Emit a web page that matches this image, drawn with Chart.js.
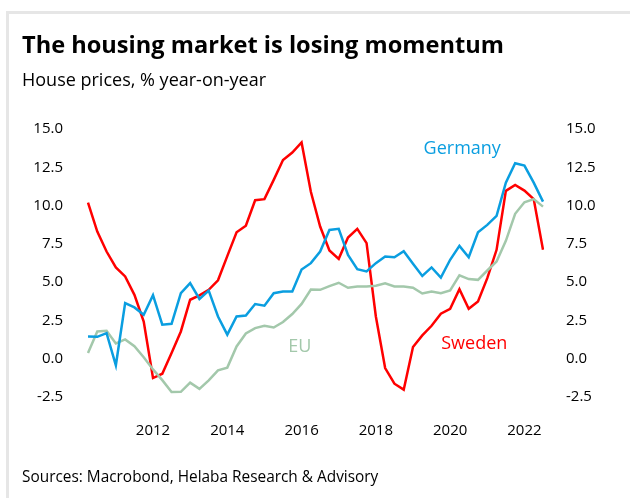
<!DOCTYPE html>
<html>
<head>
<meta charset="utf-8">
<script src="https://cdn.jsdelivr.net/npm/chart.js@4/dist/chart.umd.min.js"></script>
<style>
  html, body { margin: 0; padding: 0; background: #fff; }
  body { width: 630px; height: 498px; position: relative; overflow: hidden; font-family: "Open Sans", sans-serif; }
  #frame { position: absolute; left: 6px; top: 11px; width: 640px; height: 500px; border-left: 3px solid #e6e6e6; border-top: 3px solid #e6e6e6; }
  #title { position: absolute; left: 22px; top: 28px; font-size: 23.6px; font-weight: 700; color: #000; white-space: nowrap; }
  #subtitle { position: absolute; left: 22px; top: 67px; font-size: 18px; color: #000; white-space: nowrap; }
  #source { position: absolute; left: 22px; top: 466px; font-size: 15.4px; color: #000; white-space: nowrap; }
  #wrap { position: absolute; left: 0; top: 0; width: 630px; height: 498px; }
</style>
</head>
<body>
<div id="frame"></div>
<div id="wrap"><canvas id="c"></canvas></div>
<div id="title">The housing market is losing momentum</div>
<div id="subtitle">House prices, % year-on-year</div>
<div id="source">Sources: Macrobond, Helaba Research &amp; Advisory</div>
<script>
const quarters = [
  "2010Q2","2010Q3","2010Q4",
  "2011Q1","2011Q2","2011Q3","2011Q4",
  "2012Q1","2012Q2","2012Q3","2012Q4",
  "2013Q1","2013Q2","2013Q3","2013Q4",
  "2014Q1","2014Q2","2014Q3","2014Q4",
  "2015Q1","2015Q2","2015Q3","2015Q4",
  "2016Q1","2016Q2","2016Q3","2016Q4",
  "2017Q1","2017Q2","2017Q3","2017Q4",
  "2018Q1","2018Q2","2018Q3","2018Q4",
  "2019Q1","2019Q2","2019Q3","2019Q4",
  "2020Q1","2020Q2","2020Q3","2020Q4",
  "2021Q1","2021Q2","2021Q3","2021Q4",
  "2022Q1","2022Q2","2022Q3"
];
const germany = [
  1.45, 1.43, 1.67, -0.43, 3.63, 3.35, 2.87, 4.15, 2.22, 2.28,
  4.28, 4.94, 3.90, 4.45, 2.76, 1.57, 2.76, 2.82, 3.57, 3.46,
  4.28, 4.39, 4.39, 5.82, 6.24, 7.00, 8.41, 8.48, 6.78, 5.85,
  5.70, 6.24, 6.67, 6.63, 7.02, 6.20, 5.40, 5.96, 5.30, 6.46,
  7.37, 6.63, 8.26, 8.74, 9.33, 11.50, 12.76, 12.61, 11.50, 10.26
];
const sweden = [
  10.20, 8.30, 7.00, 5.96, 5.37, 4.17, 2.43, -1.26, -0.98, 0.37,
  1.78, 3.85, 4.14, 4.50, 5.12, 6.70, 8.26, 8.68, 10.35, 10.42,
  11.68, 12.98, 13.46, 14.12, 10.90, 8.63, 7.07, 6.52, 7.91, 8.48,
  7.55, 2.76, -0.61, -1.63, -2.02, 0.76, 1.52, 2.15, 2.94, 3.26,
  4.54, 3.26, 3.74, 5.26, 7.11, 10.96, 11.35, 10.98, 10.42, 7.11
];
const eu = [
  0.37, 1.78, 1.82, 1.00, 1.26, 0.82, 0.10, -0.70, -1.40, -2.17,
  -2.16, -1.56, -1.97, -1.41, -0.76, -0.58, 0.80, 1.65, 2.00, 2.15,
  2.04, 2.40, 2.92, 3.58, 4.52, 4.50, 4.74, 4.96, 4.63, 4.72,
  4.72, 4.76, 4.92, 4.72, 4.72, 4.64, 4.26, 4.39, 4.28, 4.46,
  5.44, 5.20, 5.15, 5.76, 6.35, 7.70, 9.46, 10.22, 10.42, 9.93
];
const yTicks = [-2.5, 0, 2.5, 5, 7.5, 10, 12.5, 15];

const BLUE = "#0a9ee0";
const RED = "#ff0000";
const GREEN = "#a3c8ab";

const labelPlugin = {
  id: "seriesLabels",
  afterDatasetsDraw(chart, args, opts) {
    const { ctx, scales } = chart;
    ctx.save();
    ctx.font = "18px 'Open Sans', sans-serif";
    ctx.textAlign = "center";
    ctx.textBaseline = "middle";
    for (const it of opts.items) {
      ctx.fillStyle = it.color;
      ctx.fillText(it.text, scales.x.getPixelForValue(it.x), scales.y.getPixelForValue(it.y));
    }
    ctx.restore();
  }
};

const tickFont = { family: "'Open Sans', sans-serif", size: 15 };

new Chart(document.getElementById("c"), {
  type: "line",
  data: {
    labels: quarters,
    datasets: [
      { label: "Germany", data: germany, borderColor: BLUE, borderWidth: 2.5, pointRadius: 0, tension: 0, yAxisID: "y" },
      { label: "EU", data: eu, borderColor: GREEN, borderWidth: 2.5, pointRadius: 0, tension: 0, yAxisID: "y" },
      { label: "Sweden", data: sweden, borderColor: RED, borderWidth: 2.5, pointRadius: 0, tension: 0, yAxisID: "y" }
    ]
  },
  options: {
    responsive: true,
    maintainAspectRatio: false,
    animation: false,
    events: [],
    layout: { padding: { top: 129, left: 0, right: 0, bottom: 0 } },
    plugins: {
      legend: { display: false },
      tooltip: { enabled: false },
      seriesLabels: {
        items: [
          { text: "Germany", color: BLUE, x: 40.3, y: 13.7 },
          { text: "Sweden", color: RED, x: 41.6, y: 0.95 },
          { text: "EU", color: GREEN, x: 22.8, y: 0.8 }
        ]
      }
    },
    scales: {
      x: {
        type: "category",
        offset: false,
        grid: { display: false },
        border: { display: false },
        afterFit(s) { s.height = 101; },
        ticks: {
          autoSkip: false,
          maxRotation: 0,
          padding: 17,
          color: "#000",
          font: tickFont,
          callback(v, i) { const q = quarters[i]; return (q.endsWith("Q1") && Number(q.slice(0,4)) % 2 === 0) ? q.slice(0,4) : ""; }
        }
      },
      y: {
        position: "left",
        min: -2.5, max: 15,
        grid: { display: false },
        border: { display: false },
        afterFit(s) { s.width = 88; },
        afterBuildTicks(s) { s.ticks = yTicks.map(v => ({ value: v })); },
        ticks: { padding: 17, color: "#000", font: tickFont, callback: v => Number(v).toFixed(1) }
      },
      y2: {
        position: "right",
        min: -2.5, max: 15,
        grid: { display: false },
        border: { display: false },
        afterFit(s) { s.width = 87; },
        afterBuildTicks(s) { s.ticks = yTicks.map(v => ({ value: v })); },
        ticks: { padding: 15, color: "#000", font: tickFont, callback: v => Number(v).toFixed(1) }
      }
    }
  },
  plugins: [labelPlugin]
});
</script>
</body>
</html>
